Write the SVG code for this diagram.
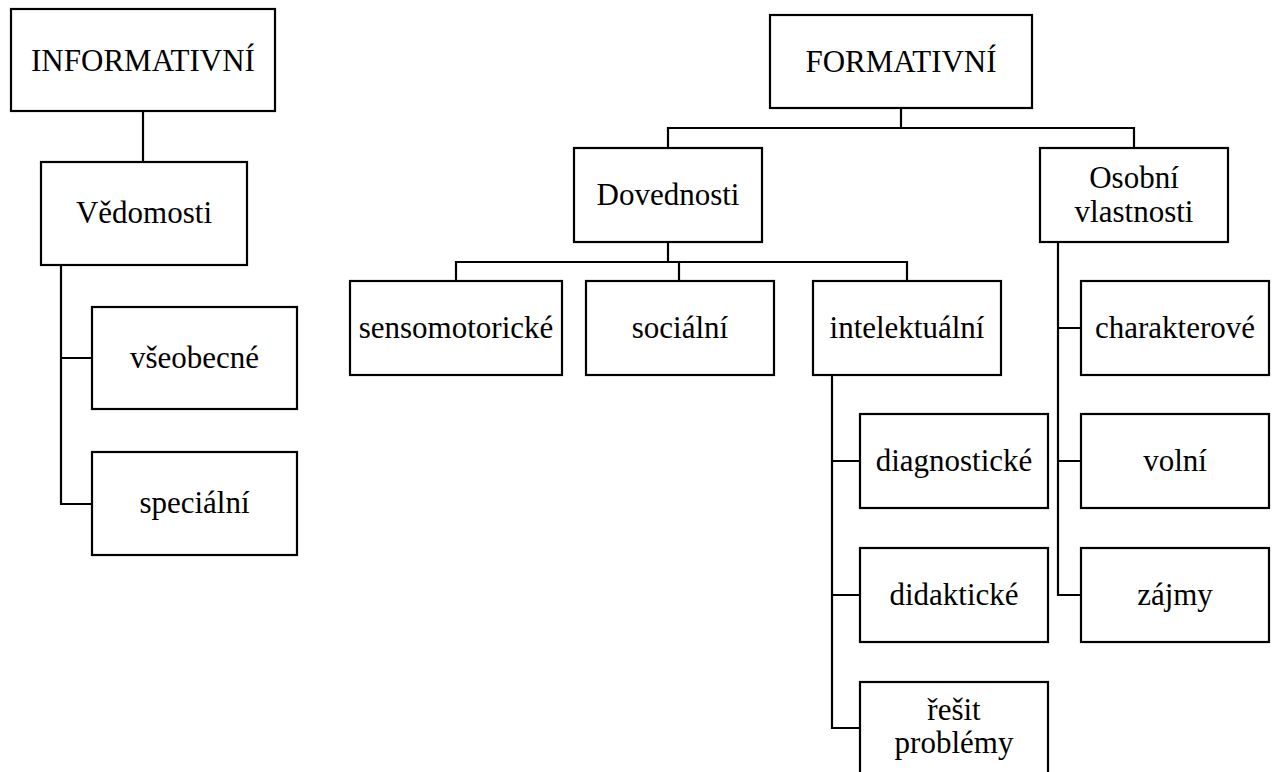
<svg xmlns="http://www.w3.org/2000/svg" width="1275" height="772" viewBox="0 0 1275 772">
<style>
.box{fill:#fff;stroke:#000;stroke-width:2.2}
.lbl{font-size:31px;fill:#000;text-anchor:middle}
.con{fill:none;stroke:#000;stroke-width:2.2}
</style>
<rect width="1275" height="772" fill="#fff"/>
<g id="connectors">
<path class="con" d="M143,111 V162"/>
<path class="con" d="M61,265 V504 H92 M61,358 H92"/>
<path class="con" d="M901,108 V128 M668,148 V128 H1134 V148"/>
<path class="con" d="M668,242 V262 M456,281 V262 H907 V281 M679,262 V281"/>
<path class="con" d="M832,375 V728 H860 M832,461 H860 M832,595 H860"/>
<path class="con" d="M1058,242 V595 H1081 M1058,328 H1081 M1058,461 H1081"/>
</g>
<g font-family="Liberation Serif, Tinos, DejaVu Serif, FreeSerif, serif">
<g id="informativni"><rect class="box" x="11" y="9" width="264" height="102"/><text class="lbl" x="143" y="71">INFORMATIVNÍ</text></g>
<g id="vedomosti"><rect class="box" x="41" y="162" width="206" height="103"/><text class="lbl" x="144" y="223">Vědomosti</text></g>
<g id="vseobecne"><rect class="box" x="92" y="307" width="205" height="102"/><text class="lbl" x="194.5" y="368">všeobecné</text></g>
<g id="specialni"><rect class="box" x="92" y="452" width="205" height="103"/><text class="lbl" x="194.5" y="513">speciální</text></g>
<g id="formativni"><rect class="box" x="770" y="15" width="262" height="93"/><text class="lbl" x="901" y="72">FORMATIVNÍ</text></g>
<g id="dovednosti"><rect class="box" x="574" y="148" width="188" height="94"/><text class="lbl" x="668" y="205">Dovednosti</text></g>
<g id="osobni"><rect class="box" x="1040" y="148" width="188" height="94"/><text class="lbl" x="1134" y="188">Osobní</text><text class="lbl" x="1134" y="222">vlastnosti</text></g>
<g id="sensomotoricke"><rect class="box" x="350" y="281" width="212" height="94"/><text class="lbl" x="456" y="338">sensomotorické</text></g>
<g id="socialni"><rect class="box" x="586" y="281" width="188" height="94"/><text class="lbl" x="680" y="338">sociální</text></g>
<g id="intelektualni"><rect class="box" x="813" y="281" width="188" height="94"/><text class="lbl" x="907" y="338">intelektuální</text></g>
<g id="charakterove"><rect class="box" x="1081" y="281" width="188" height="94"/><text class="lbl" x="1175" y="338">charakterové</text></g>
<g id="diagnosticke"><rect class="box" x="860" y="414" width="188" height="94"/><text class="lbl" x="954" y="471">diagnostické</text></g>
<g id="volni"><rect class="box" x="1081" y="414" width="188" height="94"/><text class="lbl" x="1175" y="471">volní</text></g>
<g id="didakticke"><rect class="box" x="860" y="548" width="188" height="94"/><text class="lbl" x="954" y="605">didaktické</text></g>
<g id="zajmy"><rect class="box" x="1081" y="548" width="188" height="94"/><text class="lbl" x="1175" y="605">zájmy</text></g>
<g id="resit"><rect class="box" x="860" y="682" width="188" height="94"/><text class="lbl" x="954" y="720">řešit</text><text class="lbl" x="954" y="753">problémy</text></g>
</g>
</svg>
